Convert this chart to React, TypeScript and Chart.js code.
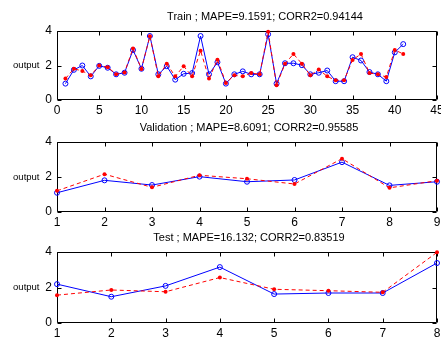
import React, { useEffect, useRef } from "react";
import { Chart, registerables } from "chart.js";

Chart.register(...registerables);

// ---------- data ----------
const trainTarget = [
  0.95, 1.75, 2.0, 1.37, 1.98, 1.87, 1.49, 1.58, 2.9, 1.81,
  3.71, 1.49, 1.96, 1.18, 1.52, 1.56, 3.71, 1.49, 2.19, 0.95,
  1.49, 1.66, 1.49, 1.49, 3.81, 0.95, 2.13, 2.13, 2.02, 1.49,
  1.58, 1.71, 1.09, 1.09, 2.48, 2.29, 1.62, 1.49, 1.09, 2.76,
  3.24,
];
const trainOutput = [
  1.24, 1.81, 1.68, 1.43, 2.0, 1.9, 1.5, 1.6, 2.99, 1.8,
  3.7, 1.37, 2.1, 1.37, 1.96, 1.37, 2.86, 1.24, 2.34, 0.99,
  1.43, 1.37, 1.56, 1.49, 3.96, 0.86, 2.1, 2.67, 2.1, 1.43,
  1.77, 1.37, 1.14, 1.14, 2.32, 2.67, 1.56, 1.49, 1.33, 2.9,
  2.67,
];
const valTarget = [1.1, 1.81, 1.54, 2.02, 1.73, 1.83, 2.85, 1.52, 1.73];
const valOutput = [1.21, 2.16, 1.41, 2.1, 1.9, 1.6, 3.05, 1.38, 1.79];
const testTarget = [2.19, 1.48, 2.09, 3.15, 1.63, 1.69, 1.69, 3.38];
const testOutput = [1.57, 1.86, 1.76, 2.56, 1.9, 1.82, 1.73, 3.98];

const trainTitle = "Train ; MAPE=9.1591; CORR2=0.94144";
const valTitle = "Validation ; MAPE=8.6091; CORR2=0.95585";
const testTitle = "Test ; MAPE=16.132; CORR2=0.83519";
const yLabel = "output";
const yRange = [0, 4];
const yStep = 2;
const trainXRange = [0, 45];
const valXRange = [1, 9];
const testXRange = [1, 8];

// ---------- layout constants ----------
const FONT = "'Liberation Sans', Arial, Helvetica, sans-serif";
const CANVAS_W = 470;
const AREA_LEFT = 57;
const AREA_RIGHT = 437;
const PAD_TOP = 31;
const XAXIS_H = 18;

const framePlugin = {
  id: "frame",
  beforeDatasetsDraw(chart: any) {
    const { ctx, chartArea, scales } = chart;
    const { left, right, top, bottom } = chartArea;
    const L = Math.round(left) + 0.5;
    const R = Math.round(right) - 0.5;
    const T = Math.round(top) + 0.5;
    const B = Math.round(bottom) - 0.5;
    ctx.save();
    ctx.strokeStyle = "#000";
    ctx.lineWidth = 1;
    ctx.beginPath();
    ctx.rect(L, T, R - L, B - T);
    ctx.stroke();
    const tl = 4;
    ctx.beginPath();
    scales.x.ticks.forEach((t: any) => {
      const px = Math.round(scales.x.getPixelForValue(t.value)) + 0.5;
      ctx.moveTo(px, B);
      ctx.lineTo(px, B - tl);
      ctx.moveTo(px, T);
      ctx.lineTo(px, T + tl);
    });
    scales.y.ticks.forEach((t: any) => {
      const py = Math.round(scales.y.getPixelForValue(t.value)) + 0.5;
      ctx.moveTo(L, py);
      ctx.lineTo(L + tl, py);
      ctx.moveTo(R, py);
      ctx.lineTo(R - tl, py);
    });
    ctx.stroke();
    ctx.restore();
  },
  afterDraw(chart: any, _args: any, opts: any) {
    const { ctx, chartArea } = chart;
    ctx.save();
    ctx.fillStyle = "#000";
    ctx.font = `11px ${FONT}`;
    ctx.textAlign = "center";
    ctx.textBaseline = "middle";
    ctx.fillText(opts.title, opts.titleX, chartArea.top - 14);
    ctx.font = `9.5px ${FONT}`;
    ctx.textAlign = "right";
    ctx.fillText(yLabel, 39.5, (chartArea.top + chartArea.bottom) / 2);
    ctx.restore();
  },
};

type PanelProps = {
  top: number;
  areaH: number;
  xRange: number[];
  xStep: number;
  target: number[];
  output: number[];
  title: string;
  titleX: number;
};

function Panel({ top, areaH, xRange, xStep, target, output, title, titleX }: PanelProps) {
  const ref = useRef<HTMLCanvasElement>(null);
  const height = PAD_TOP + areaH + XAXIS_H;
  useEffect(() => {
    const font = { family: FONT, size: 12 };
    const chart = new Chart(ref.current as HTMLCanvasElement, {
      type: "line",
      data: {
        datasets: [
          {
            label: "output",
            data: output.map((v, i) => ({ x: i + 1, y: v })),
            borderColor: "#ff0000",
            borderDash: [4, 3],
            borderWidth: 1,
            pointRadius: 2,
            pointBackgroundColor: "#ff0000",
            pointBorderColor: "#ff0000",
            pointBorderWidth: 0,
            tension: 0,
            fill: false,
            clip: false as any,
            order: 0,
          },
          {
            label: "target",
            data: target.map((v, i) => ({ x: i + 1, y: v })),
            borderColor: "#0000ff",
            borderWidth: 1,
            pointRadius: 2.5,
            pointBackgroundColor: "rgba(0,0,0,0)",
            pointBorderColor: "#0000ff",
            pointBorderWidth: 1,
            tension: 0,
            fill: false,
            clip: false as any,
            order: 1,
          },
        ],
      },
      options: {
        responsive: false,
        animation: false,
        layout: { padding: { top: PAD_TOP, left: 0, right: CANVAS_W - AREA_RIGHT, bottom: 0 } },
        plugins: {
          legend: { display: false },
          tooltip: { enabled: false },
          title: { display: false },
          frame: { title, titleX },
        } as any,
        scales: {
          x: {
            type: "linear",
            min: xRange[0],
            max: xRange[1],
            ticks: { stepSize: xStep, color: "#000", font, padding: 3, autoSkip: false, maxRotation: 0 },
            grid: { display: false, drawTicks: false },
            border: { display: false },
            afterFit: (s: any) => {
              s.height = XAXIS_H;
            },
          },
          y: {
            min: yRange[0],
            max: yRange[1],
            ticks: { stepSize: yStep, color: "#000", font, padding: 5 },
            grid: { display: false, drawTicks: false },
            border: { display: false },
            afterFit: (s: any) => {
              s.width = AREA_LEFT;
            },
          },
        },
      },
      plugins: [framePlugin],
    });
    return () => chart.destroy();
  }, []);
  return (
    <canvas
      ref={ref}
      width={CANVAS_W}
      height={height}
      style={{ position: "absolute", left: 0, top, width: CANVAS_W, height }}
    />
  );
}

export default function App() {
  return (
    <div
      style={{
        position: "fixed",
        left: 0,
        top: 0,
        width: 441,
        height: 338,
        overflow: "hidden",
        background: "#fff",
      }}
    >
      <Panel top={0} areaH={69} xRange={trainXRange} xStep={5} target={trainTarget} output={trainOutput} title={trainTitle} titleX={265} />
      <Panel top={111} areaH={70} xRange={valXRange} xStep={1} target={valTarget} output={valOutput} title={valTitle} titleX={249} />
      <Panel top={221} areaH={71} xRange={testXRange} xStep={1} target={testTarget} output={testOutput} title={testTitle} titleX={249} />
    </div>
  );
}
